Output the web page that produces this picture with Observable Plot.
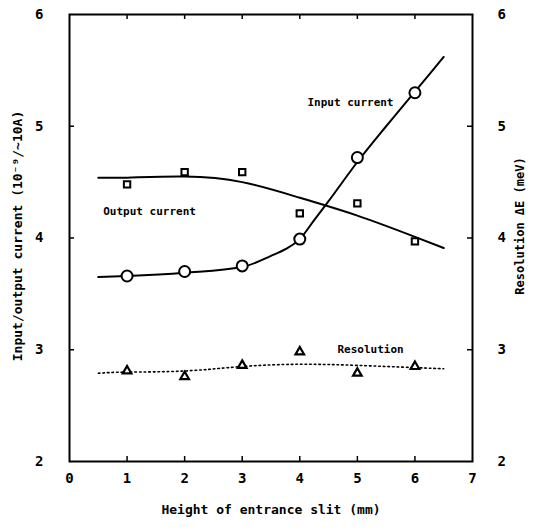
<!DOCTYPE html>
<html>
<head>
<meta charset="utf-8">
<script src="https://cdn.jsdelivr.net/npm/d3@7"></script>
<script src="https://cdn.jsdelivr.net/npm/@observablehq/plot@0.6"></script>
<style>
  html, body { margin: 0; padding: 0; background: #fff; }
  #chart svg { display: block; }
</style>
</head>
<body>
<div id="chart"></div>
<script>
// Measured points
const slitHeights = [1, 2, 3, 4, 5, 6];
const inputCurrent = [3.66, 3.70, 3.75, 3.99, 4.72, 5.30];
const outputCurrent = [4.48, 4.59, 4.59, 4.22, 4.31, 3.97];
const resolution = [2.81, 2.76, 2.86, 2.98, 2.79, 2.85];

// Hand-drawn fit curves
const inputFitX = [0.5, 1, 2, 3, 3.5, 3.75, 4, 4.25, 4.5, 5, 5.5, 6, 6.5];
const inputFit = [3.65, 3.66, 3.69, 3.74, 3.84, 3.90, 3.99, 4.16, 4.33, 4.68, 5.00, 5.31, 5.62];
const outputFitX = [0.5, 1, 2, 3, 4, 5, 6, 6.5];
const outputFit = [4.54, 4.54, 4.55, 4.50, 4.36, 4.20, 4.01, 3.91];
const resolutionFitX = [0.5, 1, 2, 3, 4, 5, 6, 6.5];
const resolutionFit = [2.79, 2.80, 2.81, 2.85, 2.87, 2.86, 2.84, 2.83];

// Ticks
const xTickLabels = [0, 1, 2, 3, 4, 5, 6, 7];
const xTickMarks = [1, 2, 3, 4, 5, 6];
const yTickLabels = [2, 3, 4, 5, 6];
const yTickMarks = [3, 4, 5];

// Annotations
const labelText = ["Input current", "Output current", "Resolution"];
const labelX = [4.88, 1.39, 5.23];
const labelY = [5.21, 4.24, 3.00];

const xTitle = "Height of entrance slit (mm)";
const yLeftTitle = "Input/output current (10⁻⁹/~10A)";
const yRightTitle = "Resolution ΔE (meV)";

const W = 533, H = 532;
const mTop = 14, mRight = 61, mBottom = 71, mLeft = 69;
const innerW = W - mLeft - mRight;
const innerH = H - mTop - mBottom;
const tickLen = 5;
const font = "DejaVu Sans Mono";

const pts = (ys) => slitHeights.map((x, i) => ({x, y: ys[i]}));
const fit = (xs, ys) => xs.map((x, i) => ({x, y: ys[i]}));
const labels = labelText.map((t, i) => ({t, x: labelX[i], y: labelY[i]}));

const chart = Plot.plot({
  width: W,
  height: H,
  marginTop: mTop,
  marginRight: mRight,
  marginBottom: mBottom,
  marginLeft: mLeft,
  style: {fontFamily: font, fontWeight: "bold", fontSize: "14px", color: "black", background: "white"},
  x: {domain: [0, 7], label: null},
  y: {domain: [2, 6], label: null},
  marks: [
    // tick labels
    Plot.axisX(xTickLabels, {anchor: "bottom", label: null, tickSize: 0, tickPadding: 12, fontSize: 14, fontWeight: "bold", tickFormat: d => String(d)}),
    Plot.axisY(yTickLabels, {anchor: "left", label: null, tickSize: 0, tickPadding: 26, fontSize: 14, fontWeight: "bold", tickFormat: d => String(d)}),
    Plot.axisY(yTickLabels, {anchor: "right", label: null, tickSize: 0, tickPadding: 25, fontSize: 14, fontWeight: "bold", tickFormat: d => String(d)}),
    // inward ticks
    Plot.ruleX(xTickMarks, {x: d => d, insetTop: innerH - tickLen, stroke: "black", strokeWidth: 1.5}),
    Plot.ruleX(xTickMarks, {x: d => d, insetBottom: innerH - tickLen, stroke: "black", strokeWidth: 1.5}),
    Plot.ruleY(yTickMarks, {y: d => d, insetRight: innerW - tickLen, stroke: "black", strokeWidth: 1.5}),
    Plot.ruleY(yTickMarks, {y: d => d, insetLeft: innerW - tickLen, stroke: "black", strokeWidth: 1.5}),
    Plot.frame({stroke: "black", strokeWidth: 2}),
    // fit curves
    Plot.line(fit(inputFitX, inputFit), {x: "x", y: "y", curve: "monotone-x", stroke: "black", strokeWidth: 2}),
    Plot.line(fit(outputFitX, outputFit), {x: "x", y: "y", curve: "natural", stroke: "black", strokeWidth: 2}),
    Plot.line(fit(resolutionFitX, resolutionFit), {x: "x", y: "y", curve: "natural", stroke: "black", strokeWidth: 1.6, strokeDasharray: "1.6,3"}),
    // data markers
    Plot.dot(pts(inputCurrent), {x: "x", y: "y", r: 5.5, fill: "white", stroke: "black", strokeWidth: 2}),
    Plot.dot(pts(outputCurrent), {x: "x", y: "y", symbol: "square", r: 3.6, fill: "white", stroke: "black", strokeWidth: 2}),
    Plot.dot(pts(resolution), {x: "x", y: "y", symbol: "triangle", r: 3.2, fill: "white", stroke: "black", strokeWidth: 2.2}),
    // annotations
    Plot.text(labels, {x: "x", y: "y", text: "t", fontSize: 11, fontWeight: "bold", fill: "black"}),
    // axis titles
    Plot.text([xTitle], {frameAnchor: "bottom", dy: 52, text: d => d, textAnchor: "middle", fontSize: 13, fontWeight: "bold", fill: "black"}),
    Plot.text([yLeftTitle], {frameAnchor: "left", dx: -52, dy: -2, rotate: -90, textAnchor: "middle", text: d => d, fontSize: 13, fontWeight: "bold", fill: "black"}),
    Plot.text([yRightTitle], {frameAnchor: "right", dx: 48, dy: -12, rotate: -90, textAnchor: "middle", text: d => d, fontSize: 12, fontWeight: "bold", fill: "black"})
  ]
});

document.getElementById("chart").appendChild(chart);
</script>
</body>
</html>
